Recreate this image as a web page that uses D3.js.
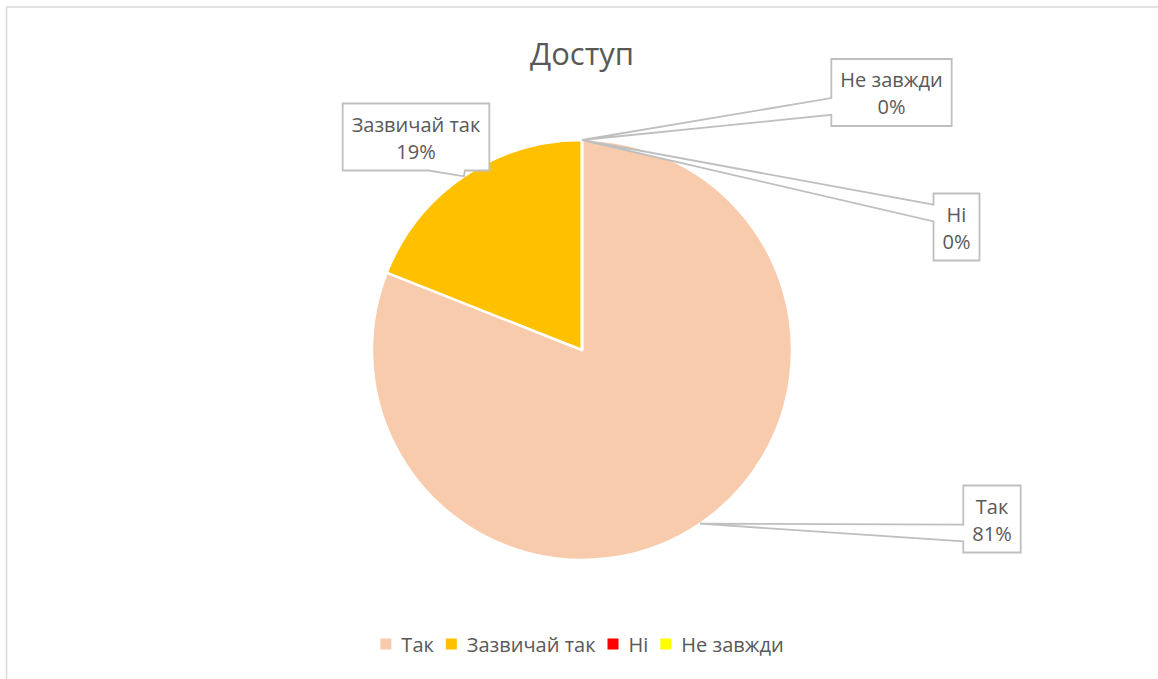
<!DOCTYPE html>
<html>
<head>
<meta charset="utf-8">
<script src="https://cdn.jsdelivr.net/npm/d3@7"></script>
<style>
  html, body { margin: 0; padding: 0; background: #ffffff; }
  svg { display: block; }
  text { font-family: "Open Sans", "Noto Sans", sans-serif; fill: #595959; }
</style>
</head>
<body>
<svg id="chart" width="1158" height="679"></svg>
<script>
// ---- data ----
const title = "Доступ";
const categories = ["Так", "Зазвичай так", "Ні", "Не завжди"];
const values = [81, 19, 0, 0];
const percentLabels = ["81%", "19%", "0%", "0%"];
const colors = ["#F8CBAD", "#FFC000", "#FF0000", "#FFFF00"];
// label box centres (layout)
const labelCenters = [[992, 519], [416, 137], [956.5, 227], [891.5, 92.5]];

// ---- layout ----
const W = 1158, H = 679;
const cx = 582, cy = 350, R = 210;
const labelFont = 20, titleFont = 31;

const svg = d3.select("#chart");

// chart area border (top & left visible)
svg.append("rect")
  .attr("x", 6.5).attr("y", 7)
  .attr("width", W + 20).attr("height", H + 20)
  .attr("fill", "#ffffff")
  .attr("stroke", "#d9d9d9").attr("stroke-width", 1.5);

// title
svg.append("text")
  .attr("x", cx).attr("y", 53)
  .attr("text-anchor", "middle").attr("dominant-baseline", "central")
  .style("font-size", titleFont + "px")
  .text(title);

// pie
const pie = d3.pie().sort(null).value(d => d.value).startAngle(0).endAngle(2 * Math.PI);
const arcs = pie(categories.map((c, i) => ({ cat: c, value: values[i], i })));
const arc = d3.arc().innerRadius(0).outerRadius(R);
const color = d3.scaleOrdinal().domain(categories).range(colors);

const g = svg.append("g").attr("transform", `translate(${cx},${cy})`);
g.selectAll("path.slice").data(arcs).join("path")
  .attr("class", "slice")
  .attr("d", arc)
  .attr("fill", d => color(d.data.cat))
  .attr("stroke", "#ffffff").attr("stroke-width", 2.5)
  .attr("stroke-linejoin", "round");

// callouts
function calloutPath(x0, y0, x1, y1, tx, ty) {
  const w = x1 - x0, h = y1 - y0;
  const hc = (x0 + x1) / 2, vc = (y0 + y1) / 2;
  const dx = tx - hc, dy = ty - vc;
  const dq = dx * h / w;
  const vertical = Math.abs(dy) > Math.abs(dq);
  const xg1 = dx > 0 ? 7 : 2, xg2 = dx > 0 ? 10 : 5;
  const yg1 = dy > 0 ? 7 : 2, yg2 = dy > 0 ? 10 : 5;
  const xa = x0 + w * xg1 / 12, xb = x0 + w * xg2 / 12;
  const ya = y0 + h * yg1 / 12, yb = y0 + h * yg2 / 12;
  const p = d3.path();
  p.moveTo(x0, y0);
  if (vertical && dy < 0) { p.lineTo(xa, y0); p.lineTo(tx, ty); p.lineTo(xb, y0); }
  p.lineTo(x1, y0);
  if (!vertical && dx > 0) { p.lineTo(x1, ya); p.lineTo(tx, ty); p.lineTo(x1, yb); }
  p.lineTo(x1, y1);
  if (vertical && dy > 0) { p.lineTo(xb, y1); p.lineTo(tx, ty); p.lineTo(xa, y1); }
  p.lineTo(x0, y1);
  if (!vertical && dx < 0) { p.lineTo(x0, yb); p.lineTo(tx, ty); p.lineTo(x0, ya); }
  p.closePath();
  return p.toString();
}

const labelsG = svg.append("g");
arcs.forEach((d, i) => {
  const a = (d.startAngle + d.endAngle) / 2;
  const tx = cx + R * Math.sin(a), ty = cy - R * Math.cos(a);
  const [bx, by] = labelCenters[i];
  const grp = labelsG.append("g");
  const pathEl = grp.append("path");
  const t1 = grp.append("text").attr("x", bx).attr("y", by - 13)
    .attr("text-anchor", "middle").attr("dominant-baseline", "central")
    .style("font-size", labelFont + "px").text(d.data.cat);
  const t2 = grp.append("text").attr("x", bx).attr("y", by + 14)
    .attr("text-anchor", "middle").attr("dominant-baseline", "central")
    .style("font-size", labelFont + "px").text(percentLabels[i]);
  const tw = Math.max(t1.node().getComputedTextLength(), t2.node().getComputedTextLength());
  const bw = tw + 18, bh = 67;
  const x0 = bx - bw / 2, y0 = by - bh / 2;
  pathEl.attr("d", calloutPath(x0, y0, x0 + bw, y0 + bh, tx, ty))
    .attr("fill", "#ffffff").attr("stroke", "#bfbfbf").attr("stroke-width", 1.8)
    .attr("stroke-linejoin", "miter");
});

// legend
const legend = svg.append("g");
const legendY = 644, sq = 11, gapText = 10, gapItem = 12;
const items = categories.map((c, i) => {
  const ig = legend.append("g");
  ig.append("rect").attr("width", sq).attr("height", sq).attr("y", -sq / 2)
    .attr("fill", color(c));
  const t = ig.append("text").attr("x", sq + gapText).attr("y", 0)
    .attr("dominant-baseline", "central")
    .style("font-size", labelFont + "px").text(c);
  return { g: ig, w: sq + gapText + t.node().getComputedTextLength() };
});
const total = d3.sum(items, d => d.w) + gapItem * (items.length - 1);
let xPos = cx - total / 2;
items.forEach(it => {
  it.g.attr("transform", `translate(${xPos},${legendY})`);
  xPos += it.w + gapItem;
});
</script>
</body>
</html>
